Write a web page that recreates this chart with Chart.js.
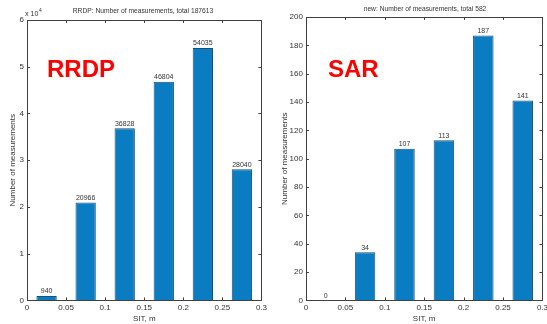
<!DOCTYPE html>
<html>
<head>
<meta charset="utf-8">
<script src="https://cdn.jsdelivr.net/npm/chart.js@4.4.1/dist/chart.umd.min.js"></script>
<style>
  html, body { margin: 0; padding: 0; background: #ffffff; }
  #wrap { position: relative; width: 547px; height: 324px; overflow: hidden; }
  #left { position: absolute; left: 0; top: 0; }
  #right { position: absolute; left: 270px; top: 0; }
</style>
</head>
<body>
<div id="wrap">
  <canvas id="left" width="270" height="324"></canvas>
  <canvas id="right" width="281" height="324"></canvas>
</div>
<script>
// Bin centres of the SIT histogram (m)
const binCentres = [0.025, 0.075, 0.125, 0.175, 0.225, 0.275];
// Counts per bin
const rrdpCounts = [940, 20966, 36828, 46804, 54035, 28040];
const sarCounts = [0, 34, 107, 113, 187, 141];
// Axis ticks
const xTicks = [0, 0.05, 0.1, 0.15, 0.2, 0.25, 0.3];
const rrdpYTicks = [0, 1, 2, 3, 4, 5, 6];          // in units of 10^4
const sarYTicks = [0, 20, 40, 60, 80, 100, 120, 140, 160, 180, 200];

const FONT = "'Liberation Sans', Arial, sans-serif";
const TEXT = '#333333';
const BAR_FILL = '#0a7cc2';
const BAR_EDGE = '#1c4f78';

// MATLAB-style axes box with inward ticks on all four sides, bar value labels,
// the panel title, the exponent marker and the big red tag.
function panelPlugin(cfg) {
  return {
    id: 'panel_' + cfg.tag,
    afterDatasetsDraw(chart) {
      const ctx = chart.ctx;
      const a = chart.chartArea;
      const xs = chart.scales.x, ys = chart.scales.y;
      ctx.save();
      ctx.strokeStyle = '#404040';
      ctx.lineWidth = 1;
      ctx.beginPath();
      ctx.rect(Math.round(a.left) + 0.5, Math.round(a.top) + 0.5,
               Math.round(a.right - a.left), Math.round(a.bottom - a.top));
      ctx.stroke();
      const tl = 3;
      ctx.beginPath();
      xs.ticks.forEach(t => {
        const px = Math.round(xs.getPixelForValue(t.value)) + 0.5;
        ctx.moveTo(px, a.bottom); ctx.lineTo(px, a.bottom - tl);
        ctx.moveTo(px, a.top); ctx.lineTo(px, a.top + tl);
      });
      ys.ticks.forEach(t => {
        const py = Math.round(ys.getPixelForValue(t.value)) + 0.5;
        ctx.moveTo(a.left, py); ctx.lineTo(a.left + tl, py);
        ctx.moveTo(a.right, py); ctx.lineTo(a.right - tl, py);
      });
      ctx.stroke();

      // value labels above bars
      const meta = chart.getDatasetMeta(0);
      const vals = chart.data.datasets[0].data;
      ctx.fillStyle = TEXT;
      ctx.font = '7px ' + FONT;
      ctx.textAlign = 'center';
      ctx.textBaseline = 'bottom';
      meta.data.forEach((el, i) => {
        ctx.fillText(String(vals[i].y), el.x, el.y - 1);
      });

      // title
      ctx.font = '6.7px ' + FONT;
      ctx.textBaseline = 'middle';
      ctx.fillText(cfg.title, cfg.titleX, cfg.titleY);

      // exponent marker
      if (cfg.exponent) {
        ctx.textAlign = 'left';
        ctx.font = '7px ' + FONT;
        ctx.fillText('x 10', a.left - 2, a.top - 6);
        ctx.font = '5px ' + FONT;
        ctx.fillText(cfg.exponent, a.left + 12, a.top - 9);
      }

      // red tag
      ctx.fillStyle = '#ff0000';
      ctx.font = 'bold 24px ' + FONT;
      ctx.textAlign = 'left';
      ctx.textBaseline = 'alphabetic';
      ctx.fillText(cfg.tag, cfg.tagX, cfg.tagY);
      ctx.restore();
    }
  };
}

function makeChart(canvasId, counts, yMax, yScaleDiv, dims, cfg) {
  const points = binCentres.map((c, i) => ({ x: c, y: counts[i] }));
  return new Chart(document.getElementById(canvasId), {
    type: 'bar',
    data: {
      datasets: [{
        data: points,
        backgroundColor: BAR_FILL,
        borderColor: BAR_EDGE,
        borderWidth: 1,
        barPercentage: 0.52,
        categoryPercentage: 1.0
      }]
    },
    options: {
      responsive: false,
      animation: false,
      events: [],
      layout: {
        autoPadding: false,
        padding: { top: dims.top, right: dims.right, bottom: 0, left: 0 }
      },
      plugins: { legend: { display: false }, tooltip: { enabled: false }, title: { display: false } },
      scales: {
        x: {
          type: 'linear',
          offset: false,
          min: 0, max: 0.3,
          afterBuildTicks: s => { s.ticks = xTicks.map(v => ({ value: v })); },
          grid: { display: false, drawTicks: false },
          border: { display: false },
          ticks: {
            color: TEXT, font: { family: FONT, size: 8, lineHeight: 1.0 }, padding: 3,
            maxRotation: 0, autoSkip: false,
            callback: v => String(Number(v.toFixed(2)))
          },
          title: { display: true, text: 'SIT, m', color: TEXT, font: { family: FONT, size: 8 }, padding: { top: 0, bottom: 0 } }
        },
        y: {
          min: 0, max: yMax,
          afterBuildTicks: s => { s.ticks = cfg.yTicks.map(v => ({ value: v * yScaleDiv })); },
          grid: { display: false, drawTicks: false },
          border: { display: false },
          ticks: {
            color: TEXT, font: { family: FONT, size: 8 }, padding: 3,
            callback: v => String(Math.round(v / yScaleDiv))
          },
          title: { display: true, text: 'Number of measurements', color: TEXT, font: { family: FONT, size: 8 }, padding: { top: dims.yTitleTop, bottom: dims.yTitleBottom } }
        }
      }
    },
    plugins: [panelPlugin(cfg)]
  });
}

makeChart('left', rrdpCounts, 60000, 10000,
  { top: 20, right: 8, yTitleTop: 8, yTitleBottom: -1 },
  { tag: 'RRDP', tagX: 47, tagY: 77, title: 'RRDP: Number of measurements, total 187613',
    titleX: 143, titleY: 11, exponent: '4', yTicks: rrdpYTicks });

makeChart('right', sarCounts, 200, 1,
  { top: 17, right: 3, yTitleTop: 10, yTitleBottom: -3 },
  { tag: 'SAR', tagX: 58, tagY: 77, title: 'new: Number of measurements, total 582',
    titleX: 155, titleY: 9, exponent: null, yTicks: sarYTicks });
</script>
</body>
</html>
